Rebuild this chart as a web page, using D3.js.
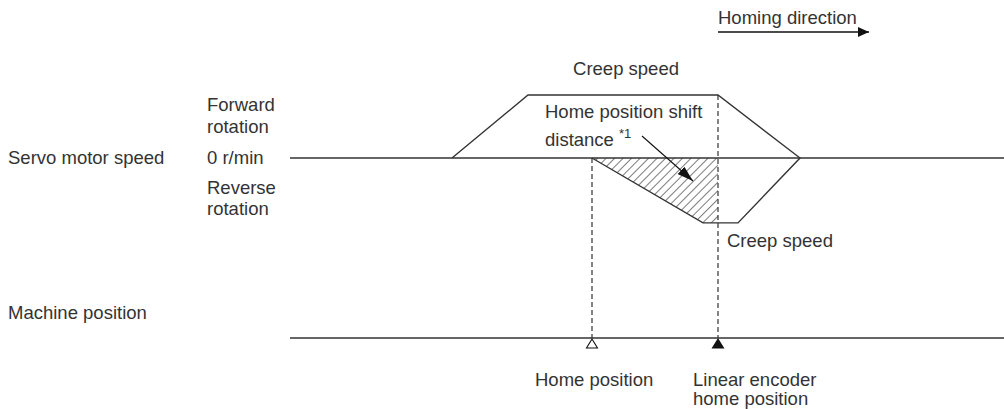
<!DOCTYPE html>
<html><head><meta charset="utf-8">
<script src="https://cdn.jsdelivr.net/npm/d3@7"></script>
<style>body{margin:0;background:#fff}svg{display:block}text{font-family:"Liberation Sans",Arial,sans-serif;font-size:18.5px;fill:#333}</style>
</head><body><svg id="c" width="1004" height="409"></svg>
<script>
// Speed profile (time units, speed: +1 forward creep, -1 reverse creep)
const profileT = [162, 238, 428, 510, 448, 413, 302];
const profileV = [0, 1, 1, 0, -1.03, -1.03, 0];
// Hatched area: home position shift distance
const shiftT = [302, 428, 428, 413];
const shiftV = [0, 0, -1.03, -1.03];
// Markers on machine position
const homeT = 302;
const encoderT = 428;

const svg = d3.select("#c");
const x = d3.scaleLinear().domain([0, 714]).range([290, 1004]);
const y = d3.scaleLinear().domain([-1, 1]).range([221, 95]);
const machineY = 338;
const ink = "#333";

const defs = svg.append("defs");
const pat = defs.append("pattern").attr("id","hatch").attr("patternUnits","userSpaceOnUse")
  .attr("width",6).attr("height",6).attr("patternTransform","rotate(45)");
pat.append("line").attr("x1",0).attr("y1",-1).attr("x2",0).attr("y2",7).attr("stroke","#222").attr("stroke-width",1.2);

// hatched area
const shiftPts = shiftT.map((t,i)=>[x(t), y(shiftV[i])]);
svg.append("path").attr("d", d3.line()(shiftPts) + "Z").attr("fill","url(#hatch)").attr("stroke","none");

// zero line
svg.append("line").attr("x1",x(0)).attr("x2",x(714)).attr("y1",y(0)).attr("y2",y(0)).attr("stroke",ink).attr("stroke-width",1.4);
// machine position line
svg.append("line").attr("x1",x(0)).attr("x2",x(714)).attr("y1",machineY).attr("y2",machineY).attr("stroke",ink).attr("stroke-width",1.4);

// profile
const pts = profileT.map((t,i)=>[x(t), y(profileV[i])]);
svg.append("path").attr("d", d3.line()(pts)).attr("fill","none").attr("stroke",ink).attr("stroke-width",1.4);

// dashed verticals
svg.append("line").attr("x1",x(homeT)).attr("x2",x(homeT)).attr("y1",y(0)).attr("y2",machineY)
  .attr("stroke",ink).attr("stroke-dasharray","5,3").attr("stroke-width",1.2);
svg.append("line").attr("x1",x(encoderT)).attr("x2",x(encoderT)).attr("y1",y(1)).attr("y2",machineY)
  .attr("stroke",ink).attr("stroke-dasharray","5,3").attr("stroke-width",1.2);

// triangles
function tri(cx, filled){
  svg.append("path").attr("d",`M${cx},${machineY+1}L${cx-5.5},${machineY+10}L${cx+5.5},${machineY+10}Z`)
    .attr("fill", filled? "#111":"#fff").attr("stroke","#111").attr("stroke-width",1.1);
}
tri(x(homeT), false);
tri(x(encoderT), true);

// arrow markers
defs.append("marker").attr("id","ah").attr("viewBox","0 0 11 10").attr("refX",11).attr("refY",5)
  .attr("markerWidth",11).attr("markerHeight",10).attr("markerUnits","userSpaceOnUse").attr("orient","auto")
  .append("path").attr("d","M0,0L11,5L0,10Z").attr("fill","#111");
defs.append("marker").attr("id","ah2").attr("viewBox","0 0 16 10").attr("refX",16).attr("refY",5)
  .attr("markerWidth",16).attr("markerHeight",10).attr("markerUnits","userSpaceOnUse").attr("orient","auto")
  .append("path").attr("d","M0,0L16,5L0,10Z").attr("fill","#111");

// homing direction arrow
svg.append("line").attr("x1",718).attr("x2",869).attr("y1",32).attr("y2",32).attr("stroke","#111").attr("stroke-width",1.5).attr("marker-end","url(#ah)");
// pointer arrow
svg.append("line").attr("x1",642).attr("y1",136).attr("x2",693).attr("y2",181).attr("stroke","#111").attr("stroke-width",1.1).attr("marker-end","url(#ah2)");

// texts
const T = (s, tx, ty, anchor) => svg.append("text").attr("x",tx).attr("y",ty).attr("text-anchor",anchor||"start").text(s);
T("Homing direction", 718, 24);
T("Creep speed", 626, 75, "middle");
T("Home position shift", 545, 118);
const d = T("distance ", 545, 146);
d.append("tspan").attr("dy",-8).attr("font-size",13).text("*1");
T("Forward", 207, 111);
T("rotation", 207, 133);
T("Servo motor speed", 8, 164);
T("0 r/min", 207, 164);
T("Reverse", 207, 194);
T("rotation", 207, 215);
T("Creep speed", 727, 247);
T("Machine position", 8, 319);
T("Home position", 535, 386);
T("Linear encoder", 693, 386);
T("home position", 693, 405);
</script></body></html>
